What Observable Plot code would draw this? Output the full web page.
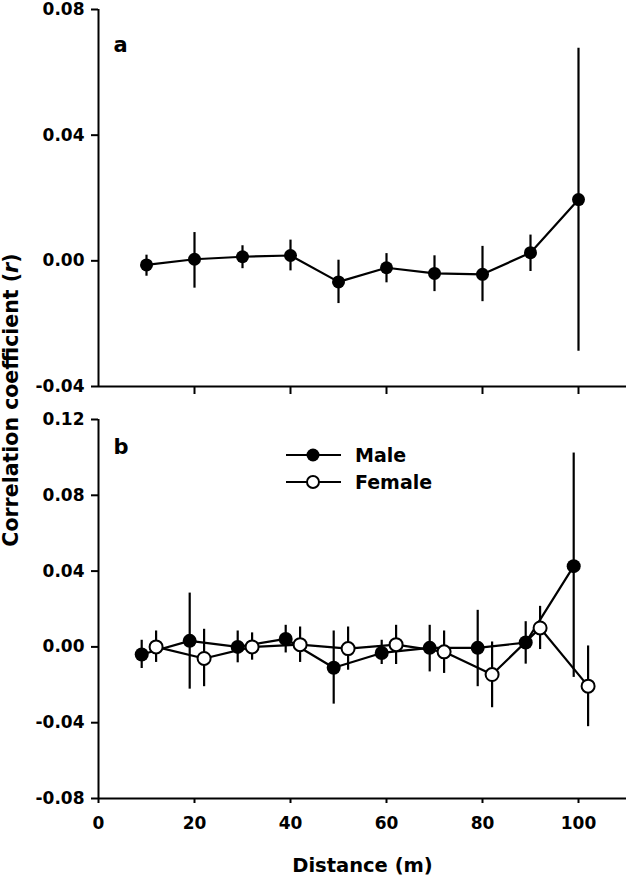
<!DOCTYPE html>
<html>
<head>
<meta charset="utf-8">
<script src="https://cdn.jsdelivr.net/npm/d3@7"></script>
<script src="https://cdn.jsdelivr.net/npm/@observablehq/plot@0.6"></script>
<style>
  body { margin: 0; background: #fff; }
  #wrap { position: relative; width: 629px; height: 879px; font-family: "DejaVu Sans", sans-serif; font-weight: bold; color: #000; }
  #pa { position: absolute; left: 0; top: 0; }
  #pb { position: absolute; left: 0; top: 405px; }
  #ylab { position: absolute; left: 11px; top: 400px; transform: translate(-50%, -50%) rotate(-90deg); white-space: nowrap; font-size: 20.5px; line-height: 1; }
  #legend { position: absolute; left: 0; top: 0; pointer-events: none; }
</style>
</head>
<body>
<div id="wrap">
  <div id="pa"></div>
  <div id="pb"></div>
  <div id="ylab">Correlation coefficient (<i>r</i>)</div>
  <svg id="legend" width="629" height="879" font-family="DejaVu Sans, sans-serif" font-weight="bold">
    <line x1="286" x2="341" y1="455" y2="455" stroke="#000" stroke-width="2.2"></line>
    <circle cx="313" cy="455" r="6.5" fill="#000"></circle>
    <text x="355" y="455" dy="0.36em" font-size="19">Male</text>
    <line x1="286" x2="341" y1="482" y2="482" stroke="#000" stroke-width="2.2"></line>
    <circle cx="313" cy="482" r="6" fill="#fff" stroke="#000" stroke-width="2"></circle>
    <text x="355" y="482" dy="0.36em" font-size="19">Female</text>
  </svg>
</div>
<script>
// ---- Panel a (all individuals) ----
const distA = [10, 20, 30, 40, 50, 60, 70, 80, 90, 100];
const rA    = [-0.0013, 0.0005, 0.0013, 0.0017, -0.0067, -0.0022, -0.0040, -0.0043, 0.0026, 0.0195];
const loA   = [-0.0049, -0.0087, -0.0025, -0.0032, -0.0136, -0.0070, -0.0098, -0.0130, -0.0034, -0.0288];
const hiA   = [0.0018, 0.0090, 0.0048, 0.0066, 0.0002, 0.0023, 0.0016, 0.0046, 0.0082, 0.0677];

// ---- Panel b (males and females) ----
const distM = [9, 19, 29, 39, 49, 59, 69, 79, 89, 99];
const rM    = [-0.0040, 0.0032, 0.0000, 0.0042, -0.0110, -0.0032, -0.0005, -0.0005, 0.0023, 0.0426];
const loM   = [-0.0114, -0.0223, -0.0084, -0.0032, -0.0302, -0.0093, -0.0132, -0.0210, -0.0091, -0.0161];
const hiM   = [0.0035, 0.0284, 0.0084, 0.0114, 0.0084, 0.0035, 0.0114, 0.0193, 0.0133, 0.1023];

const distF = [12, 22, 32, 42, 52, 62, 72, 82, 92, 102];
const rF    = [0.0000, -0.0061, 0.0000, 0.0012, -0.0009, 0.0012, -0.0026, -0.0146, 0.0100, -0.0207];
const loF   = [-0.0082, -0.0210, -0.0070, -0.0082, -0.0123, -0.0093, -0.0140, -0.0321, -0.0014, -0.0421];
const hiF   = [0.0084, 0.0093, 0.0074, 0.0105, 0.0105, 0.0114, 0.0084, 0.0026, 0.0214, 0.0005];

// ---- Axes ----
const xDomain = [0, 110];
const xTicksA = [20, 40, 60, 80, 100];
const xTicksB = [0, 20, 40, 60, 80, 100];
const yDomainA = [-0.04, 0.08];
const yTicksA = [-0.04, 0.00, 0.04, 0.08];
const yDomainB = [-0.08, 0.12];
const yTicksB = [-0.08, -0.04, 0.00, 0.04, 0.08, 0.12];
const xLabel = "Distance (m)";

const rows = (xs, rs, los, his) => xs.map((x, i) => ({x, r: rs[i], lo: los[i], hi: his[i]}));
const A = rows(distA, rA, loA, hiA);
const M = rows(distM, rM, loM, hiM);
const F = rows(distF, rF, loF, hiF);

const fmt = d => d.toFixed(2);
const style = {fontFamily: "DejaVu Sans, sans-serif", fontWeight: "bold", fontSize: "17px", color: "#000", background: "#fff", overflow: "visible"};

const pa = Plot.plot({
  width: 629, height: 405,
  marginLeft: 98, marginRight: 3, marginTop: 9, marginBottom: 19,
  style,
  x: {domain: xDomain},
  y: {domain: yDomainA},
  marks: [
    Plot.axisY({ticks: yTicksA, tickSize: 7, tickPadding: 7, tickFormat: fmt, label: null, strokeWidth: 2}),
    Plot.axisX({ticks: xTicksA, tickSize: 8, tickFormat: () => "", label: null, strokeWidth: 2}),
    Plot.ruleX([xDomain[0]], {strokeWidth: 2}),
    Plot.ruleY([yDomainA[0]], {strokeWidth: 2}),
    Plot.ruleX(A, {x: "x", y1: "lo", y2: "hi", strokeWidth: 2.2}),
    Plot.line(A, {x: "x", y: "r", strokeWidth: 2.2}),
    Plot.dot(A, {x: "x", y: "r", r: 6.5, fill: "#000"}),
    Plot.text(["a"], {frameAnchor: "top-left", dx: 15, dy: 36, lineAnchor: "middle", fontSize: 21})
  ]
});
document.getElementById("pa").appendChild(pa);

const pb = Plot.plot({
  width: 629, height: 474,
  marginLeft: 98, marginRight: 3, marginTop: 14, marginBottom: 81,
  style,
  x: {domain: xDomain},
  y: {domain: yDomainB},
  marks: [
    Plot.axisY({ticks: yTicksB, tickSize: 7, tickPadding: 7, tickFormat: fmt, label: null, strokeWidth: 2}),
    Plot.axisX({ticks: xTicksB, tickSize: 5, tickPadding: 13, tickFormat: d => String(d), label: null, strokeWidth: 2}),
    Plot.ruleX([xDomain[0]], {strokeWidth: 2}),
    Plot.ruleY([yDomainB[0]], {strokeWidth: 2}),
    Plot.ruleX(M, {x: "x", y1: "lo", y2: "hi", strokeWidth: 2.2}),
    Plot.ruleX(F, {x: "x", y1: "lo", y2: "hi", strokeWidth: 2.2}),
    Plot.line(M, {x: "x", y: "r", strokeWidth: 2.2}),
    Plot.line(F, {x: "x", y: "r", strokeWidth: 2.2}),
    Plot.dot(M, {x: "x", y: "r", r: 7, fill: "#000"}),
    Plot.dot(F, {x: "x", y: "r", r: 6.5, fill: "#fff", stroke: "#000", strokeWidth: 2}),
    Plot.text(["b"], {frameAnchor: "top-left", dx: 15, dy: 28, lineAnchor: "middle", fontSize: 21}),
    Plot.text([xLabel], {frameAnchor: "bottom", dy: 67, lineAnchor: "middle", fontSize: 19.5})
  ]
});
document.getElementById("pb").appendChild(pb);
</script>
</body>
</html>
